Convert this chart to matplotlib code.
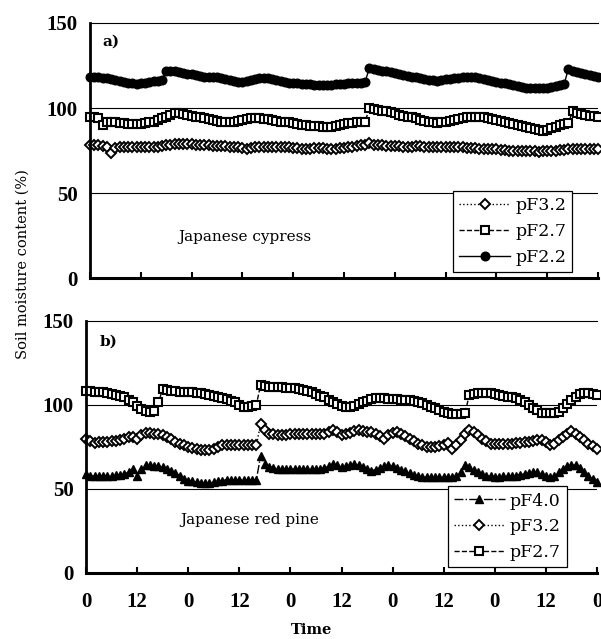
import numpy as np
import matplotlib
matplotlib.use('Agg')
import matplotlib.pyplot as plt

# hourly readings over 5 days (0..120 h)
hours = np.arange(121)
tick_pos = np.arange(0, 121, 12)
tick_lab = ['0', '12'] * 5 + ['0']

# a) Japanese cypress
cyp_pf32 = [78, 78, 78, 77.5, 77, 73.5, 76.5, 77, 77, 77, 77, 77,
            77, 77, 77, 77, 77, 77.5, 78, 78.5, 79, 79, 79, 79,
            79, 78.5, 78, 78, 78, 77.5, 77.5, 77.5, 77.5, 77, 77, 77,
            76.5, 76, 76.5, 77, 77, 77, 77, 77, 77, 77, 77, 77,
            76.5, 76.5, 76, 76, 76, 76.5, 76.5, 76.5, 76, 76, 76, 76.5,
            76.5, 77, 77, 77.5, 78, 78.5, 79.5, 78.5, 78, 78, 77.5, 77.5,
            77.5, 77.5, 77, 77, 77, 77.5, 77.5, 77, 77, 77, 77, 77,
            77, 77, 77, 77, 77, 76.5, 76.5, 76.5, 76, 76, 76, 76,
            76, 75.5, 75.5, 75, 75, 75, 75, 75, 74.5, 74.5, 74, 74.5,
            75, 75, 75, 75.5, 75.5, 76, 76, 76, 76, 76, 76, 76,
            76]
cyp_pf27 = [95, 94.5, 94, 90, 92, 91.5, 91.5, 91, 91, 90.5, 90.5, 90.5,
            90.5, 91, 91.5, 92, 93, 94, 95, 96, 97, 97, 96.5, 96,
            95.5, 95, 94.5, 94, 93.5, 93, 92.5, 92, 92, 91.5, 92, 92.5,
            93, 93.5, 94, 94, 94, 93.5, 93.5, 93, 92.5, 92, 92, 91.5,
            91, 90.5, 90, 90, 89.5, 89.5, 89.5, 89, 89, 89, 89.5, 90,
            90.5, 91, 91, 91.5, 92, 92, 100, 99.5, 99, 98.5, 98, 97.5,
            97, 96, 95.5, 95, 94.5, 94, 93, 92.5, 92, 91.5, 91, 91.5,
            92, 92.5, 93, 93.5, 94, 94.5, 95, 95, 95, 94.5, 94, 93.5,
            93, 92.5, 91.5, 91, 90.5, 90, 89.5, 89, 88, 87.5, 87, 86.5,
            87, 88, 89, 90, 90.5, 91, 98, 97, 96.5, 96, 95.5, 95.5,
            95]
cyp_pf22 = [118, 118, 118, 117.5, 117.5, 117, 116.5, 116, 115.5, 115, 114.5, 114,
            114.5, 115, 115.5, 116, 116, 116.5, 122, 122, 121.5, 121, 120.5, 120,
            120, 119.5, 119, 118.5, 118.5, 118, 118, 117.5, 117, 116.5, 116, 115.5,
            115.5, 116, 116.5, 117, 117.5, 117.5, 117.5, 117, 116.5, 116, 115.5, 115,
            115, 114.5, 114, 114, 114, 113.5, 113.5, 113.5, 113.5, 113.5, 114, 114,
            114, 114.5, 114.5, 115, 115, 115.5, 123.5, 123, 122.5, 122, 121.5, 121,
            120.5, 120, 119.5, 119, 118.5, 118, 117.5, 117, 116.5, 116.5, 116, 116.5,
            117, 117, 117.5, 117.5, 118, 118, 118.5, 118, 117.5, 117, 116.5, 116,
            115.5, 115, 114.5, 114, 113.5, 113, 112.5, 112, 112, 111.5, 111.5, 111.5,
            112, 112.5, 113, 113.5, 114, 123, 122, 121, 120.5, 120, 119.5, 119,
            118.5]

# b) Japanese red pine
pine_pf40 = [59, 58, 57.5, 57.5, 58, 58, 58, 58.5, 58.5, 59, 60, 62,
             58, 62, 64, 64, 63.5, 63.5, 63, 62, 61, 59.5, 58, 56,
             55, 54.5, 54, 53.5, 53.5, 53.5, 54, 54.5, 55, 55.5, 55.5, 55.5,
             55.5, 55.5, 55.5, 55.5, 55.5, 69.5, 65, 63, 62.5, 62, 62, 62,
             62, 62, 62, 62, 62, 62, 62, 62, 62.5, 63.5, 65, 64,
             63, 63.5, 64.5, 65, 64, 63, 62, 61, 61.5, 62.5, 63.5, 64,
             63.5, 62.5, 61.5, 60.5, 59.5, 58.5, 57.5, 57, 57, 57, 57, 57,
             57, 57, 57, 57.5, 60, 64.5, 63, 61.5, 60, 59, 58, 57.5,
             57, 57, 57.5, 57.5, 58, 58, 58.5, 59, 59.5, 60, 60, 59,
             58, 57, 58, 60, 62, 63.5, 64.5, 64, 62.5, 60, 58, 56,
             54]
pine_pf32 = [79.5, 78.5, 77.5, 78, 78, 78, 78.5, 78.5, 79, 80, 81, 81,
             79.5, 82, 83.5, 83.5, 83, 82.5, 82, 81, 79.5, 78, 77, 76,
             75, 74.5, 74, 73.5, 73.5, 73.5, 74, 75, 76, 76, 76, 76,
             76, 76, 76, 76, 76, 88.5, 85, 83, 82.5, 82, 82, 82,
             82.5, 82.5, 82.5, 82.5, 82.5, 82.5, 82.5, 82.5, 83, 84, 85, 84,
             82, 82.5, 83.5, 84.5, 85, 84.5, 84, 84, 83, 81.5, 80, 82,
             83.5, 84, 83, 81.5, 80, 78.5, 77, 76, 75, 75, 75, 75.5,
             76, 77.5, 74, 76, 79, 83, 85, 84, 82, 80, 78.5, 77,
             76.5, 76.5, 77, 77, 77, 77.5, 77.5, 78, 78, 78.5, 79, 79,
             78, 76, 77, 79, 81, 83, 84.5, 83, 81, 79, 77, 75.5,
             74]
pine_pf27 = [108.5, 108.5, 108, 108, 107.5, 107, 106.5, 106, 105.5, 104.5, 103, 101.5,
             99.5, 97.5, 96.5, 96, 96.5, 101.5, 109.5, 109, 108.5, 108.5, 108, 108,
             107.5, 107.5, 107, 107, 106.5, 106, 105.5, 105, 104, 103.5, 102.5, 101.5,
             100, 99, 99, 99.5, 100, 112, 111.5, 111, 111, 110.5, 110.5, 110,
             110, 110, 109.5, 109, 108.5, 107.5, 106.5, 105.5, 104.5, 103, 102, 100.5,
             99.5, 99, 99, 99.5, 100.5, 101.5, 102.5, 103.5, 104, 104, 104, 103.5,
             103.5, 103.5, 103, 103, 103, 102.5, 102, 101, 100, 99, 98, 97,
             96, 95, 94.5, 94.5, 94.5, 95, 106, 106.5, 107, 107, 107, 107,
             106.5, 106, 105.5, 105, 104.5, 104, 103, 101.5, 100, 98.5, 97, 95.5,
             95, 95, 95, 96, 98, 100.5, 103, 105, 106.5, 107, 107, 106.5,
             106]

num_font = {'family': 'Liberation Serif', 'weight': 'bold', 'size': 15}
txt_font = 'DejaVu Serif'

fig = plt.figure(figsize=(6.01, 6.39), dpi=100)
ax1 = fig.add_axes([90/601, 1-278/639, 508/601, 255/639])
ax2 = fig.add_axes([86/601, 1-573/639, 511/601, 252/639])

# open markers: white face, heavy black rim
sq_mk = dict(marker='s', markerfacecolor='white', markeredgecolor='black',
             markersize=5.2, markeredgewidth=1.5, color='black', lw=1, clip_on=False)
dm_mk = dict(marker='D', markerfacecolor='white', markeredgecolor='black',
             markersize=4.8, markeredgewidth=1.4, color='black', lw=1, clip_on=False)
ci_mk = dict(marker='o', color='black', markersize=6.2, lw=1, clip_on=False)
tr_mk = dict(marker='^', color='black', markersize=6.2, lw=1, clip_on=False)

ax1.plot(hours, cyp_pf32, ls=':', label='pF3.2', **dm_mk)
ax1.plot(hours, cyp_pf27, ls='--', label='pF2.7', **sq_mk)
ax1.plot(hours, cyp_pf22, ls='-', label='pF2.2', **ci_mk)

ax2.plot(hours, pine_pf40, ls='-.', label='pF4.0', **tr_mk)
ax2.plot(hours, pine_pf32, ls=':', label='pF3.2', **dm_mk)
ax2.plot(hours, pine_pf27, ls='--', label='pF2.7', **sq_mk)

for ax in (ax1, ax2):
    ax.set_xlim(0, 120)
    ax.set_ylim(0, 150)
    ax.set_yticks([0, 50, 100, 150])
    ax.set_xticks(tick_pos)
    for v in (50, 100):
        ax.axhline(v, color='black', lw=0.8, zorder=0)
    ax.spines['right'].set_visible(False)
    ax.spines['top'].set_linewidth(0.8)
    ax.spines['left'].set_linewidth(2)
    ax.spines['bottom'].set_linewidth(2.2)
    ax.tick_params(axis='x', direction='in', length=4, width=1.5, pad=14)
    ax.tick_params(axis='y', length=0, pad=9)
    for t in ax.get_yticklabels():
        t.set_fontproperties(num_font)
    leg = ax.legend(loc='lower right', prop={'family': txt_font, 'size': 12.5},
                    handlelength=2.9, labelspacing=0.5, borderpad=0.35, handletextpad=0.3,
                    borderaxespad=0, fancybox=False, framealpha=1, edgecolor='black',
                    bbox_to_anchor=(0.949 if ax is ax1 else 0.941, 0.024))
    leg.get_frame().set_linewidth(0.9)

ax1.set_xticklabels([])
ax2.set_xticklabels(tick_lab, fontdict=num_font)

ax1.text(0.024, 0.925, 'a)', transform=ax1.transAxes, family=txt_font, weight='bold', size=11, va='center')
ax2.text(0.027, 0.92, 'b)', transform=ax2.transAxes, family=txt_font, weight='bold', size=11, va='center')
ax1.text(0.173, 0.16, 'Japanese cypress', transform=ax1.transAxes, family=txt_font, size=11, va='center')
ax2.text(0.184, 0.21, 'Japanese red pine', transform=ax2.transAxes, family=txt_font, size=11, va='center')

fig.text(0.037, 0.587, 'Soil moisture content (%)', rotation=90, family=txt_font, size=10.5,
         ha='center', va='center')
fig.text(0.518, 0.014, 'Time', family=txt_font, weight='bold', size=10.5, ha='center', va='center')

fig.savefig('out.png', dpi=100)
